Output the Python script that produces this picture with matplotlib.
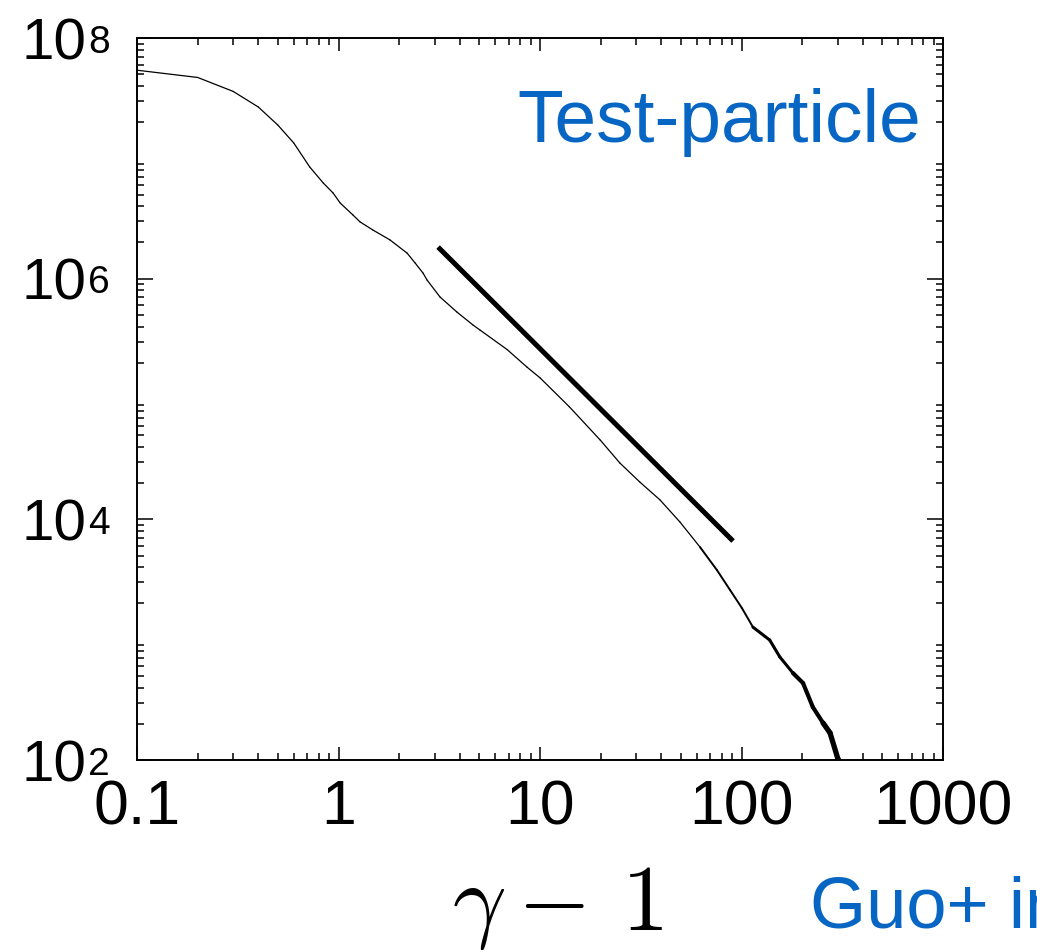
import numpy as np
import matplotlib
matplotlib.use("Agg")
import matplotlib.pyplot as plt
from matplotlib.collections import LineCollection
from matplotlib.ticker import FixedLocator, FixedFormatter, LogLocator, NullFormatter

# ---------------- data ----------------
energy = [0.1, 0.2, 0.3, 0.4, 0.5, 0.6, 0.72, 0.84, 0.94, 1.02, 1.18, 1.28,
          1.48, 1.80, 2.19, 2.40, 2.63, 2.75, 3.19, 3.87, 4.65, 5.04, 6.86,
          8.62, 10.0, 14.0, 19.9, 24.9, 31.3, 39.4, 49.5, 62.2, 75.5, 87.7,
          100.5, 114, 138, 155, 180, 202, 226, 254, 275, 301, 315]
counts = [5.4e7, 4.7e7, 3.6e7, 2.67e7, 1.89e7, 1.34e7, 8.47e6, 6.24e6,
          5.15e6, 4.25e6, 3.38e6, 2.96e6, 2.54e6, 2.10e6, 1.63e6, 1.35e6,
          1.11e6, 9.75e5, 7.04e5, 5.28e5, 4.12e5, 3.74e5, 2.58e5, 1.84e5,
          1.50e5, 8.6e4, 4.56e4, 2.94e4, 2.04e4, 1.45e4, 9.5e3, 5.89e3,
          3.79e3, 2.59e3, 1.83e3, 1.27e3, 993, 718, 528, 436, 275, 203, 168,
          102, 90]

powerlaw_x = [3.12, 90.8]
powerlaw_y = [1.83e6, 6.6e3]

xtick_vals = [0.1, 1, 10, 100, 1000]
xtick_labels = ["0.1", "1", "10", "100", "1000"]
ytick_vals = [1e2, 1e4, 1e6, 1e8]
ytick_base = ["10", "10", "10", "10"]
ytick_exponents = ["2", "4", "6", "8"]

label_text = "Test-particle"
source_text = "Guo+ in"
xlabel_text = r"$\gamma - \,1$"

sans = ["Liberation Sans", "DejaVu Sans"]
blue = "#0766C3"

fig = plt.figure(figsize=(10.37, 9.5), dpi=100)
ax = fig.add_axes([137/1037, 1-760/950, (943-137)/1037, (760-38)/950])
ax.set_xscale("log")
ax.set_yscale("log")
ax.set_xlim(0.1, 1000)
ax.set_ylim(1e2, 1e8)

# spectrum with increasing line width in the noisy tail
xs = np.array(energy, dtype=float)
ys = np.array(counts, dtype=float)
pts = np.column_stack([xs, ys]).reshape(-1, 1, 2)
segs = np.concatenate([pts[:-1], pts[1:]], axis=1)
widths = []
for x0 in xs[:-1]:
    if x0 < 60:
        widths.append(0.9)
    elif x0 < 110:
        widths.append(1.4)
    elif x0 < 170:
        widths.append(2.2)
    elif x0 < 240:
        widths.append(3.0)
    else:
        widths.append(3.8)
lc = LineCollection(segs, colors="black", linewidths=widths, capstyle="round",
                    joinstyle="round", clip_on=True)
ax.add_collection(lc)

ax.plot(powerlaw_x, powerlaw_y, color="black", lw=3.6, solid_capstyle="butt")

# ticks
ax.xaxis.set_major_locator(FixedLocator(xtick_vals))
ax.xaxis.set_major_formatter(FixedFormatter(xtick_labels))
ax.yaxis.set_major_locator(FixedLocator(ytick_vals))
ax.yaxis.set_major_formatter(FixedFormatter(ytick_base))
ax.xaxis.set_minor_locator(LogLocator(base=10, subs=np.arange(2, 10), numticks=20))
ax.yaxis.set_minor_locator(LogLocator(base=10, subs=np.arange(2, 10), numticks=20))
ax.xaxis.set_minor_formatter(NullFormatter())
ax.yaxis.set_minor_formatter(NullFormatter())

ax.tick_params(axis="both", which="both", direction="in", top=True, right=True,
               width=1.1, color="black")
ax.tick_params(axis="x", which="major", length=9.5, pad=13)
ax.tick_params(axis="x", which="minor", length=5)
ax.tick_params(axis="y", which="major", length=11.5, pad=36.5)
ax.tick_params(axis="y", which="minor", length=5)
for lab in ax.get_xticklabels():
    lab.set_fontfamily(sans)
    lab.set_fontsize(45)
for lab in ax.get_yticklabels():
    lab.set_fontfamily(sans)
    lab.set_fontsize(42)

# exponents of the y tick labels
for val, ex in zip(ytick_vals, ytick_exponents):
    ax.annotate(ex, xy=(0, val), xycoords=("axes fraction", "data"),
                xytext=(-35.0, 9.5), textcoords="offset points",
                ha="left", va="top", fontsize=28, family=sans,
                annotation_clip=False)

for sp in ax.spines.values():
    sp.set_linewidth(1.4)

# texts
fig.text(921/1037, 1-142/950, label_text, color=blue, fontsize=54,
         family=sans, ha="right", va="baseline")
fig.text(810/1037, 1-928/950, source_text, color=blue, fontsize=52,
         family=sans, ha="left", va="baseline")
fig.text(557/1037, 1-930/950, xlabel_text, fontsize=68, math_fontfamily="cm",
         ha="center", va="baseline")

fig.savefig("out.png", dpi=100)
